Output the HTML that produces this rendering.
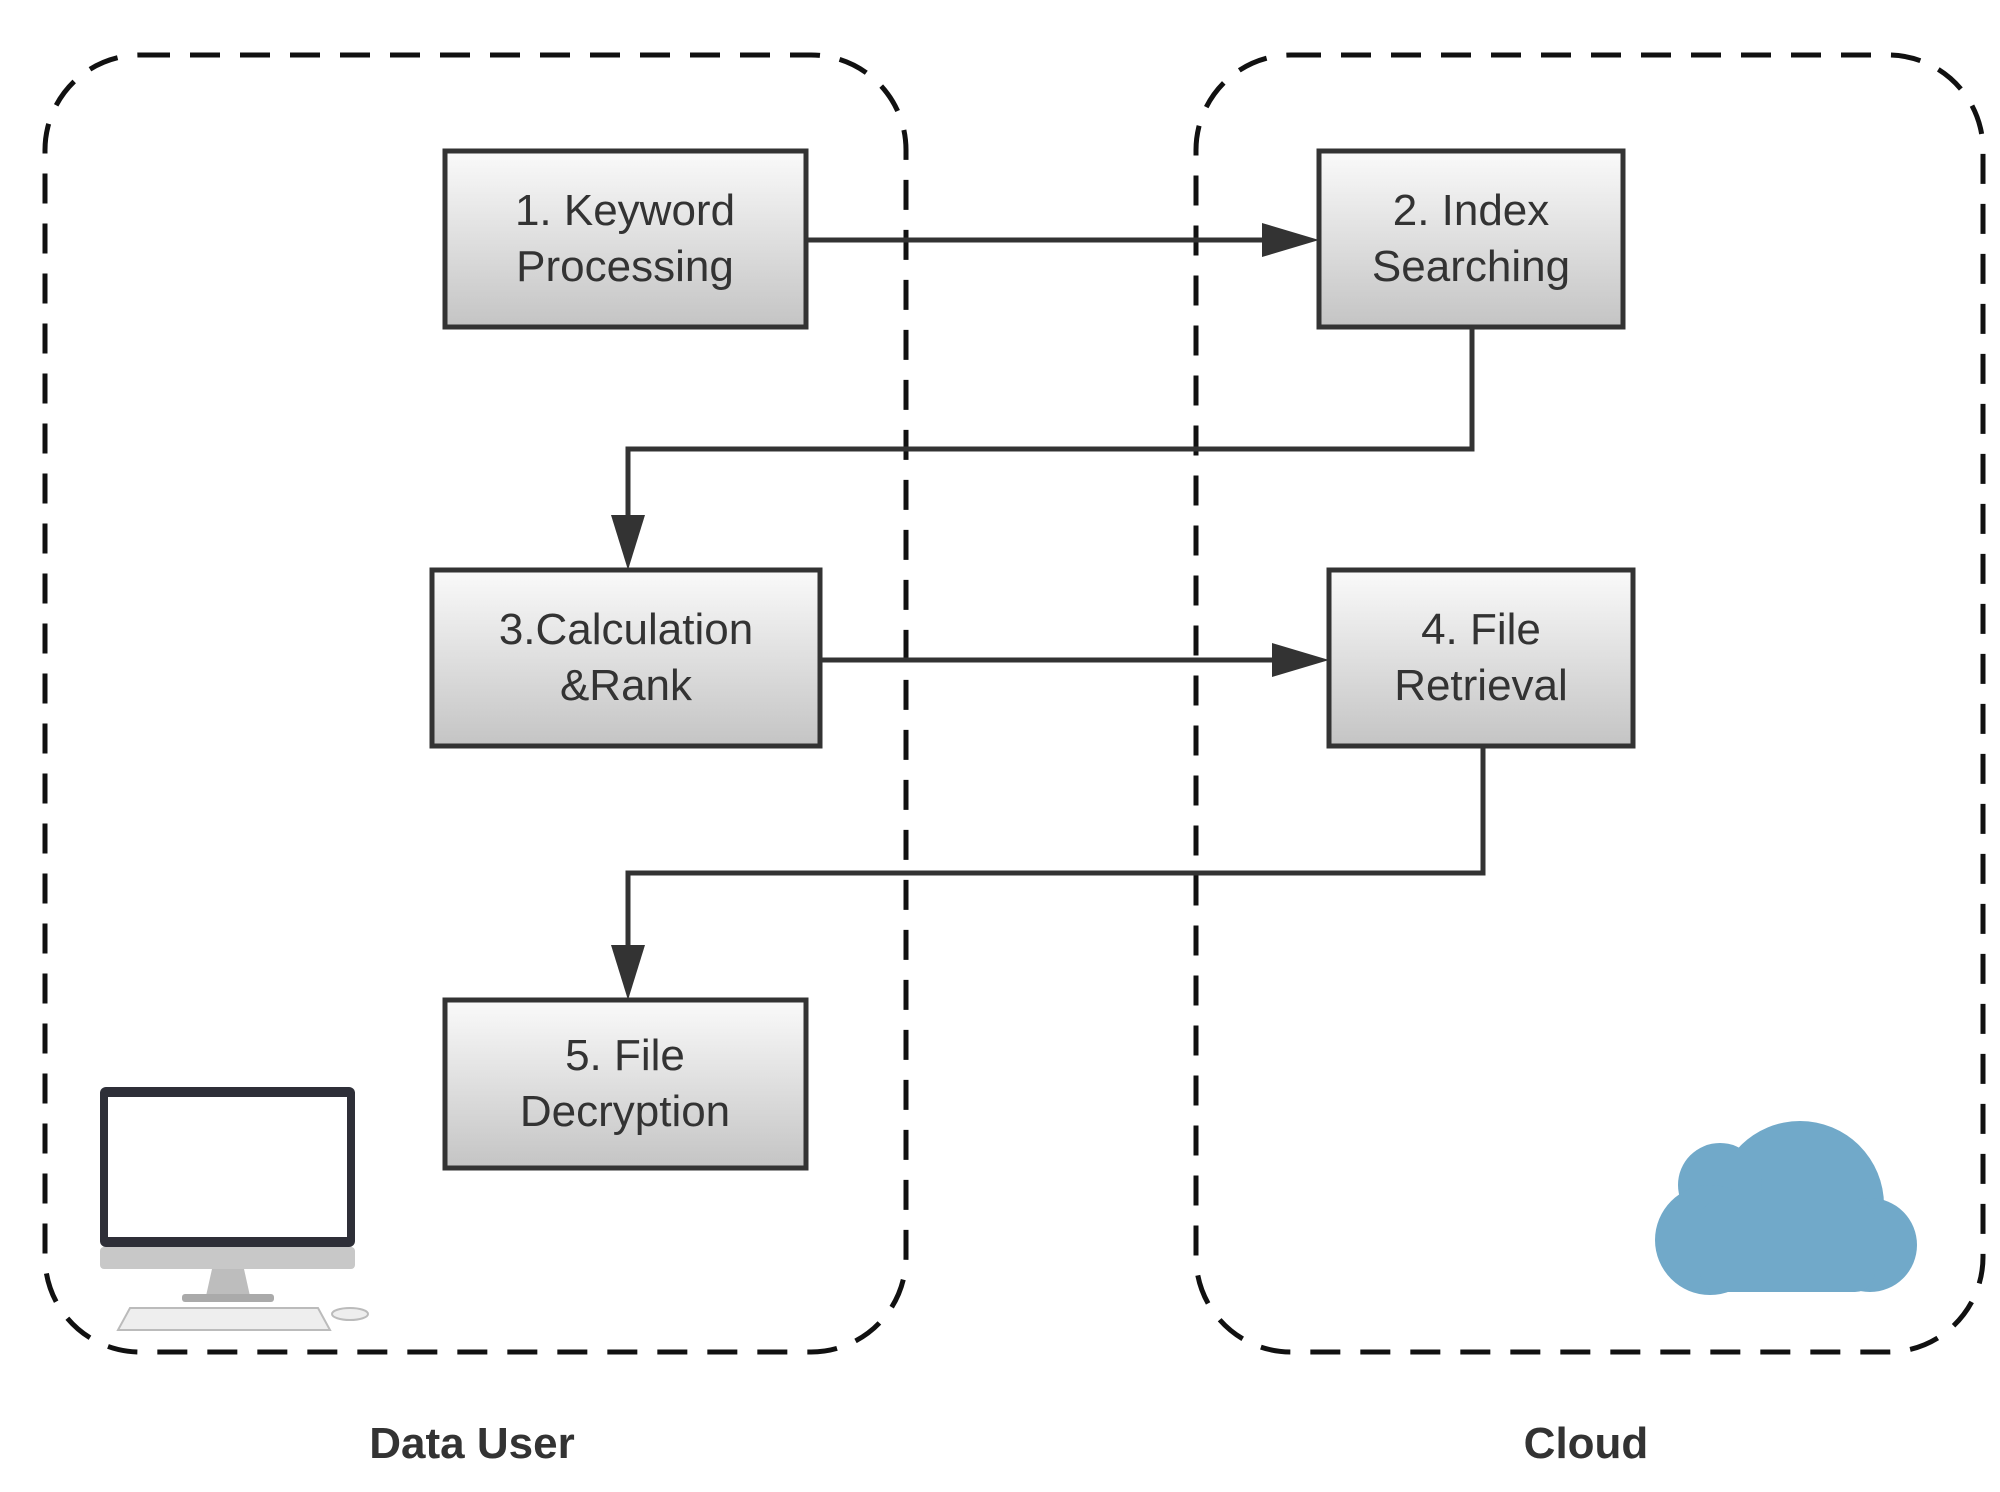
<!DOCTYPE html>
<html><head><meta charset="utf-8"><style>
html,body{margin:0;padding:0;background:#fff;}
svg{display:block;}
</style></head><body>
<svg width="2000" height="1492" viewBox="0 0 2000 1492" xmlns="http://www.w3.org/2000/svg">
<defs>
<linearGradient id="g" x1="0" y1="0" x2="0" y2="1">
<stop offset="0" stop-color="#fafafa"/><stop offset="1" stop-color="#c4c4c4"/>
</linearGradient>
<marker id="ar" markerWidth="12" markerHeight="10" refX="11" refY="5" orient="auto" markerUnits="userSpaceOnUse" viewBox="0 0 12 10">
</marker>
</defs>
<rect x="45" y="55" width="861" height="1297" rx="95" fill="none" stroke="#111" stroke-width="5" stroke-dasharray="30 20"/>
<rect x="1196" y="55" width="787" height="1297" rx="95" fill="none" stroke="#111" stroke-width="5" stroke-dasharray="30 20"/>

<g stroke="#333" stroke-width="5" fill="none">
<polyline points="806,240 1270,240"/>
<polyline points="1472,327 1472,449 628,449 628,520"/>
<polyline points="820,660 1280,660"/>
<polyline points="1483,746 1483,873 628,873 628,950"/>
</g>
<g fill="#333">
<polygon points="1319,240 1262,223 1262,257"/>
<polygon points="628,570 611,515 645,515"/>
<polygon points="1329,660 1272,643 1272,677"/>
<polygon points="628,1000 611,945 645,945"/>
</g>

<g stroke="#333" stroke-width="5" fill="url(#g)">
<rect x="445" y="151" width="361" height="176"/>
<rect x="1319" y="151" width="304" height="176"/>
<rect x="432" y="570" width="388" height="176"/>
<rect x="1329" y="570" width="304" height="176"/>
<rect x="445" y="1000" width="361" height="168"/>
</g>
<g font-family="Liberation Sans, sans-serif" font-size="44" fill="#333" text-anchor="middle">
<text x="625" y="225">1. Keyword</text><text x="625" y="281">Processing</text>
<text x="1471" y="225">2. Index</text><text x="1471" y="281">Searching</text>
<text x="626" y="644">3.Calculation</text><text x="626" y="700">&amp;Rank</text>
<text x="1481" y="644">4. File</text><text x="1481" y="700">Retrieval</text>
<text x="625" y="1070">5. File</text><text x="625" y="1126">Decryption</text>
</g>
<g font-family="Liberation Sans, sans-serif" font-size="44" font-weight="bold" fill="#333" text-anchor="middle">
<text x="472" y="1458">Data User</text>
<text x="1586" y="1458">Cloud</text>
</g>

<!-- computer -->
<rect x="100" y="1087" width="255" height="160" rx="6" fill="#2e2f38"/>
<rect x="108" y="1097" width="239" height="140" fill="#fff"/>
<rect x="100" y="1247" width="255" height="22" rx="4" fill="#c8c8c8"/>
<polygon points="212,1269 244,1269 250,1296 206,1296" fill="#bdbdbd"/>
<rect x="182" y="1294" width="92" height="8" rx="3" fill="#aaa"/>
<polygon points="130,1308 318,1308 330,1330 118,1330" fill="#eee" stroke="#bbb" stroke-width="2"/>
<ellipse cx="350" cy="1314" rx="18" ry="6" fill="#eee" stroke="#bbb" stroke-width="2"/>

<!-- cloud -->
<g fill="#71a9c9">
<circle cx="1800" cy="1205" r="84"/>
<circle cx="1720" cy="1185" r="42"/>
<circle cx="1710" cy="1240" r="55"/>
<circle cx="1870" cy="1245" r="47"/>
<rect x="1700" y="1200" width="175" height="92" rx="20"/>
</g>
</svg>
</body></html>
